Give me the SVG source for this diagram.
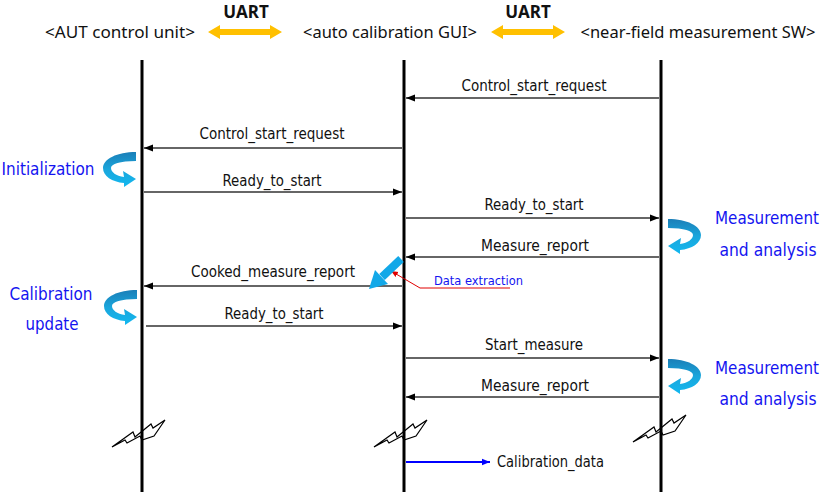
<svg xmlns="http://www.w3.org/2000/svg" width="827" height="495" viewBox="0 0 827 495">
<style>
.hdr{font-family:"Noto Sans","Open Sans",sans-serif;font-size:16px;fill:#111;}
.uart{font-family:"Noto Sans","Open Sans",sans-serif;font-size:17px;font-weight:bold;fill:#111;}
.msg{font-family:"DejaVu Sans Condensed","DejaVu Sans",sans-serif;font-stretch:condensed;font-size:15px;fill:#111;}
.note{font-family:"DejaVu Sans Condensed","DejaVu Sans",sans-serif;font-stretch:condensed;font-size:18px;fill:#1414f0;}
.life{stroke:#000;stroke-width:3;}
.m{stroke:#333;stroke-width:1.3;fill:none;marker-end:url(#ah);}
.brk{fill:#fff;stroke:#000;stroke-width:1.2;stroke-linejoin:miter;}
</style>
<defs>
<marker id="ah" viewBox="0 0 10 10" refX="10" refY="5" markerWidth="9" markerHeight="9" markerUnits="userSpaceOnUse" orient="auto">
<path d="M0,1 L10,5 L0,9 Z" fill="#000"/>
</marker>
<marker id="ahb" viewBox="0 0 10 10" refX="10" refY="5" markerWidth="8" markerHeight="8" markerUnits="userSpaceOnUse" orient="auto">
<path d="M0,1 L10,5 L0,9 Z" fill="#0000ff"/>
</marker>
<marker id="ahr" viewBox="0 0 10 10" refX="10" refY="5" markerWidth="7" markerHeight="7" markerUnits="userSpaceOnUse" orient="auto">
<path d="M0,1 L10,5 L0,9 Z" fill="#e00000"/>
</marker>
<linearGradient id="cg" x1="0" y1="0" x2="0" y2="1">
<stop offset="0" stop-color="#1b7fb8"/>
<stop offset="0.5" stop-color="#1aa6dc"/>
<stop offset="1" stop-color="#12b8f0"/>
</linearGradient>
<path id="curl" d="M34,0 C15,0 1,7 1,16 C1,24 10,30 22,31 L22,35 L34,27 L21,19 L22,25 C14,24 9,20 9,16 C9,12 18,9 34,9 Z" fill="url(#cg)"/>
<path id="brkshape" d="M0,27 L21,12 L23,17 L39,4 L41,8 L53,0 L42,16 L30,20 L28,16 L15,23 L13,20 Z"/>
<path id="ydarrow" d="M0,0 L12,-7 L12,-3 L62,-3 L62,-7 L74,0 L62,7 L62,3 L12,3 L12,7 Z" fill="#ffc000"/>
</defs>

<g id="header-aut"><text class="hdr" x="120" y="38" text-anchor="middle" textLength="150" lengthAdjust="spacingAndGlyphs">&lt;AUT control unit&gt;</text></g>
<g id="header-gui"><text class="hdr" x="390" y="38" text-anchor="middle" textLength="174" lengthAdjust="spacingAndGlyphs">&lt;auto calibration GUI&gt;</text></g>
<g id="header-nf"><text class="hdr" x="698" y="38" text-anchor="middle" textLength="235" lengthAdjust="spacingAndGlyphs">&lt;near-field measurement SW&gt;</text></g>

<g id="uart1"><text class="uart" x="246" y="18" text-anchor="middle">UART</text><use href="#ydarrow" x="208" y="32"/></g>
<g id="uart2"><text class="uart" x="528" y="18" text-anchor="middle">UART</text><use href="#ydarrow" x="491" y="32"/></g>

<g id="lifeline-aut"><use class="brk" href="#brkshape" x="112" y="420"/><line class="life" x1="142" y1="60" x2="142" y2="492"/></g>
<g id="lifeline-gui"><use class="brk" href="#brkshape" x="374" y="420"/><line class="life" x1="404" y1="60" x2="404" y2="492"/></g>
<g id="lifeline-nf"><use class="brk" href="#brkshape" x="633" y="415"/><line class="life" x1="661" y1="60" x2="661" y2="492"/></g>

<g id="connectors">
<line class="m" x1="659" y1="98" x2="406" y2="98"/>
<line class="m" x1="402" y1="148" x2="144" y2="148"/>
<line class="m" x1="144" y1="192" x2="402" y2="192"/>
<line class="m" x1="406" y1="218" x2="659" y2="218"/>
<line class="m" x1="659" y1="257" x2="406" y2="257"/>
<line class="m" x1="402" y1="286" x2="144" y2="286"/>
<line class="m" x1="146" y1="326" x2="402" y2="326"/>
<line class="m" x1="406" y1="358" x2="659" y2="358"/>
<line class="m" x1="659" y1="397" x2="406" y2="397"/>
<line x1="406" y1="462" x2="490" y2="462" stroke="#0000ff" stroke-width="2.2" marker-end="url(#ahb)"/>
<polyline points="510,288 420,288 391,271" fill="none" stroke="#e00000" stroke-width="1" marker-end="url(#ahr)"/>
</g>

<g id="labels">
<text class="msg" x="534" y="91" text-anchor="middle" textLength="145" lengthAdjust="spacingAndGlyphs">Control_start_request</text>
<text class="msg" x="272" y="139" text-anchor="middle" textLength="145" lengthAdjust="spacingAndGlyphs">Control_start_request</text>
<text class="msg" x="272" y="186" text-anchor="middle" textLength="99" lengthAdjust="spacingAndGlyphs">Ready_to_start</text>
<text class="msg" x="534" y="210" text-anchor="middle" textLength="99" lengthAdjust="spacingAndGlyphs">Ready_to_start</text>
<text class="msg" x="535" y="251" text-anchor="middle" textLength="108" lengthAdjust="spacingAndGlyphs">Measure_report</text>
<text class="msg" x="273" y="277" text-anchor="middle" textLength="164" lengthAdjust="spacingAndGlyphs">Cooked_measure_report</text>
<text class="msg" x="274" y="319" text-anchor="middle" textLength="99" lengthAdjust="spacingAndGlyphs">Ready_to_start</text>
<text class="msg" x="534" y="350" text-anchor="middle" textLength="98" lengthAdjust="spacingAndGlyphs">Start_measure</text>
<text class="msg" x="535" y="391" text-anchor="middle" textLength="108" lengthAdjust="spacingAndGlyphs">Measure_report</text>
<text class="msg" x="497" y="467" textLength="107" lengthAdjust="spacingAndGlyphs">Calibration_data</text>
</g>

<g id="initialization">
<text class="note" x="48" y="175" text-anchor="middle" textLength="93" lengthAdjust="spacingAndGlyphs">Initialization</text>
<use href="#curl" x="102" y="152"/>
</g>
<g id="calibration-update">
<text class="note" x="51" y="300" text-anchor="middle" textLength="83" lengthAdjust="spacingAndGlyphs">Calibration</text>
<text class="note" x="52" y="330" text-anchor="middle" textLength="53" lengthAdjust="spacingAndGlyphs">update</text>
<use href="#curl" x="103" y="290"/>
</g>
<g id="measurement-1">
<text class="note" x="767" y="224" text-anchor="middle" textLength="104" lengthAdjust="spacingAndGlyphs">Measurement</text>
<text class="note" x="768" y="256" text-anchor="middle" textLength="97" lengthAdjust="spacingAndGlyphs">and analysis</text>
<use href="#curl" transform="translate(702,219) scale(-1,1)"/>
</g>
<g id="measurement-2">
<text class="note" x="767" y="374" text-anchor="middle" textLength="104" lengthAdjust="spacingAndGlyphs">Measurement</text>
<text class="note" x="768" y="405" text-anchor="middle" textLength="97" lengthAdjust="spacingAndGlyphs">and analysis</text>
<use href="#curl" transform="translate(702,359) scale(-1,1)"/>
</g>
<g id="data-extraction">
<line x1="401" y1="259" x2="382" y2="277" stroke="#12a8e8" stroke-width="8"/>
<polygon points="369,289 388,284 375,270" fill="#12a8e8"/>
<text x="434" y="285" font-family="'DejaVu Sans Condensed','DejaVu Sans',sans-serif" font-size="13" fill="#1414f0" textLength="89" lengthAdjust="spacingAndGlyphs">Data extraction</text>
</g>
</svg>
